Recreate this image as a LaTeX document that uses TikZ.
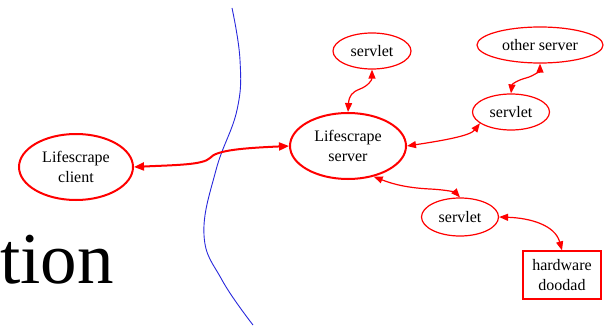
\documentclass[tikz,border=0pt]{standalone}
\usepackage{fontspec}
\setmainfont{Liberation Serif}
\usetikzlibrary{shapes.geometric,arrows.meta}
\definecolor{lred}{RGB}{255,0,0}
\definecolor{lblue}{RGB}{40,40,220}
\tikzset{
  ell/.style={ellipse,draw=lred,line width=1.2pt,inner sep=0pt,align=center,font=\fontsize{16}{20}\selectfont},
  bigell/.style={ell,line width=2pt},
  boxnode/.style={rectangle,draw=lred,line width=1.2pt,inner sep=0pt,align=center,font=\fontsize{16}{20}\selectfont},
  conn/.style={draw=lred,line width=1.2pt,{Triangle[length=9pt,width=7pt]}-{Triangle[length=9pt,width=7pt]}},
  bigconn/.style={draw=lred,line width=2pt,{Triangle[length=10pt,width=8pt]}-{Triangle[length=10pt,width=8pt]}},
}
\begin{document}
\begin{tikzpicture}[x=1pt,y=-1pt]
\useasboundingbox (0,0) rectangle (604,326);
\clip (0,0) rectangle (604,326);
\node[inner sep=0pt,anchor=base east,font=\fontsize{73}{78}\selectfont] (title) at (114,283) {tion};
\draw[lblue,line width=0.9pt] plot[smooth,tension=0.7] coordinates {(232,8) (240,60) (237,110) (216,170) (204,235) (222,280) (253,325)};
\node[bigell,minimum width=114pt,minimum height=66pt] (client) at (76,167) {Lifescrape\\client};
\node[bigell,minimum width=116pt,minimum height=66pt] (server) at (348,146) {Lifescrape\\server};
\node[ell,minimum width=78pt,minimum height=36pt] (s1) at (372,51) {servlet};
\node[ell,minimum width=126pt,minimum height=36pt] (other) at (540,45) {other server};
\node[ell,minimum width=77pt,minimum height=36pt] (s2) at (511,112) {servlet};
\node[ell,minimum width=77pt,minimum height=38pt] (s3) at (460,217) {servlet};
\node[boxnode,minimum width=78pt,minimum height=48pt] (hw) at (562,275) {hardware\\doodad};
\draw[bigconn] (client.east) .. controls (175,165) and (203,165) .. (210,158) .. controls (216,150) and (245,148) .. (server.west);
\draw[conn] (server.north) .. controls (349,96) and (352,92) .. (360,89) .. controls (368,86) and (372,80) .. (s1.south);
\draw[conn] (server.east) .. controls (440,141) and (470,136) .. (s2.200);
\draw[conn] (s2.north) .. controls (512,84) and (518,80) .. (526,78) .. controls (534,76) and (540,70) .. (other.south);
\draw[conn] (server.-50) .. controls (395,185) and (410,188) .. (430,189) .. controls (450,190) and (456,193) .. (s3.north);
\draw[conn] (s3.east) .. controls (530,218) and (555,225) .. (hw.north);
\end{tikzpicture}
\end{document}
